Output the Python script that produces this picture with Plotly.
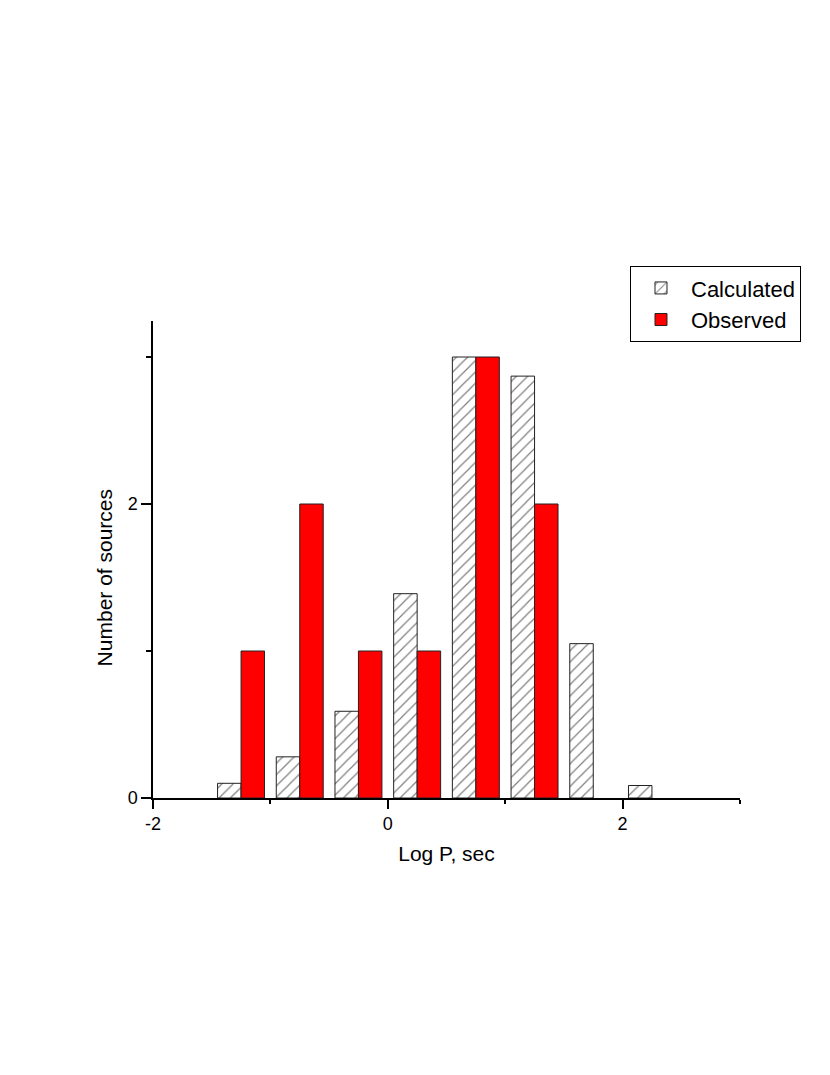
import plotly.graph_objects as go

# bin centres (log P, sec) and counts
bin_centers = [-1.25, -0.75, -0.25, 0.25, 0.75, 1.25, 1.75, 2.25]
calculated = [0.10, 0.28, 0.59, 1.39, 3.0, 2.87, 1.05, 0.085]
observed = [1, 2, 1, 1, 3, 2, None, None]

x_ticks = [-2, 0, 2]
x_ticktext = ['-2', '0', '2']
y_ticks = [0, 2]

FONT = "Arial, Liberation Sans, sans-serif"

fig = go.Figure()

# hatched calculated bars
fig.add_trace(go.Bar(
    x=bin_centers,
    y=calculated,
    name='Calculated',
    marker=dict(
        color='white',
        line=dict(color='#222222', width=1),
        pattern=dict(shape='/', fgcolor='#000000', bgcolor='white', size=8, solidity=0.15)
    )
))

# observed bars, solid red
fig.add_trace(go.Bar(
    x=bin_centers,
    y=observed,
    name='Observed',
    marker=dict(color='#FF0000', line=dict(color='#222222', width=1))
))

# page body adds an 8px offset, so margins are shifted to compensate
fig.update_layout(
    width=830,
    height=1075,
    margin=dict(l=145, r=98, t=313, b=285),
    paper_bgcolor='white',
    plot_bgcolor='white',
    barmode='group',
    bargap=0.2,
    bargroupgap=0,
    font=dict(family=FONT, size=18, color='black'),
    legend=dict(
        x=0.8126, y=1.115, xanchor='left', yanchor='top',
        bordercolor='black', borderwidth=1,
        font=dict(size=22),
        itemwidth=50,
        tracegroupgap=0
    ),
)

# y title placed slightly below the plot centre, as in the original
fig.add_annotation(
    text='Number of sources', textangle=-90,
    xref='paper', yref='paper', x=-0.083, y=0.461,
    xanchor='center', yanchor='middle', showarrow=False,
    font=dict(size=21)
)

fig.update_xaxes(
    range=[-2, 3],
    tickvals=x_ticks, ticktext=x_ticktext,
    ticks='outside', ticklen=9, tickwidth=1.5, tickcolor='black',
    minor=dict(dtick=1, tick0=-1, ticks='outside', ticklen=4, tickwidth=1.5, tickcolor='black'),
    showline=True, linecolor='black', linewidth=1.5,
    showgrid=False, zeroline=False,
    title=dict(text='Log P, sec', font=dict(size=21), standoff=13)
)

fig.update_yaxes(
    range=[0, 3.245],
    tickvals=y_ticks,
    ticks='outside', ticklen=10, tickwidth=1.5, tickcolor='black',
    minor=dict(dtick=1, tick0=1, ticks='outside', ticklen=5, tickwidth=1.5, tickcolor='black'),
    showline=True, linecolor='black', linewidth=1.5,
    showgrid=False, zeroline=False
)

fig.write_html("out.html")
